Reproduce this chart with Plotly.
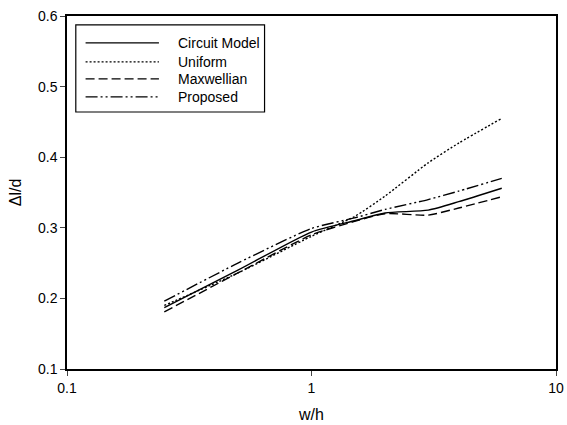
import plotly.graph_objects as go

wh = [0.25, 0.5, 1.0, 1.5, 2.0, 3.0, 4.0, 6.0]
circuit = [0.187, 0.240, 0.294, 0.310, 0.321, 0.325, 0.337, 0.356]
uniform = [0.190, 0.236, 0.288, 0.316, 0.345, 0.392, 0.420, 0.455]
maxwellian = [0.181, 0.236, 0.290, 0.309, 0.320, 0.318, 0.328, 0.344]
proposed = [0.196, 0.250, 0.299, 0.314, 0.326, 0.340, 0.352, 0.370]

names = ["Circuit Model", "Uniform", "Maxwellian", "Proposed"]
series = [circuit, uniform, maxwellian, proposed]
dashes = ["solid", "2px,2px", "9px,4px", "12px,3px,2px,3px,2px,3px"]

FONT = "Liberation Sans, Arial, sans-serif"

fig = go.Figure()
for name, ys, d in zip(names, series, dashes):
    fig.add_trace(go.Scatter(x=wh, y=ys, mode="lines", name=name,
                             line=dict(color="black", width=1.4, dash=d, shape="spline", smoothing=0.6),
                             showlegend=False))

# custom legend
fig.add_shape(type="rect", xref="paper", yref="paper", x0=0.018, x1=0.404, y0=0.728, y1=0.975,
              line=dict(color="black", width=1.2), fillcolor="white")
ent_y = [0.924, 0.870, 0.822, 0.771]
for name, d, yy in zip(names, dashes, ent_y):
    fig.add_shape(type="line", xref="paper", yref="paper", x0=0.038, x1=0.188, y0=yy, y1=yy,
                  line=dict(color="black", width=1.4, dash=d))
    fig.add_annotation(xref="paper", yref="paper", x=0.222, y=yy, text=name, showarrow=False,
                       xanchor="left", yanchor="middle", font=dict(size=14, color="black", family=FONT))

fig.update_layout(
    width=567, height=425,
    margin=dict(l=67, r=11, t=16, b=56),
    plot_bgcolor="white", paper_bgcolor="white",
    font=dict(family=FONT, size=14, color="black"),
)
fig.update_xaxes(type="log", range=[-1, 1], tickvals=[0.1, 1, 10], ticktext=["0.1", "1", "10"],
                 ticks="outside", ticklen=5, showline=True, linecolor="black", linewidth=1.5,
                 mirror=True, showgrid=False, zeroline=False, automargin=False,
                 ticklabeloverflow="allow",
                 tickfont=dict(size=14),
                 title=dict(text="w/h", font=dict(size=16), standoff=14))
fig.update_yaxes(range=[0.1, 0.6], tickvals=[0.1, 0.2, 0.3, 0.4, 0.5, 0.6],
                 ticktext=["0.1", "0.2", "0.3", "0.4", "0.5", "0.6"],
                 ticks="outside", ticklen=5, showline=True, linecolor="black", linewidth=1.5,
                 mirror=True, showgrid=False, zeroline=False, automargin=False,
                 tickfont=dict(size=14),
                 title=dict(text="Δl/d", font=dict(size=16), standoff=12))

fig.write_html("out.html")
